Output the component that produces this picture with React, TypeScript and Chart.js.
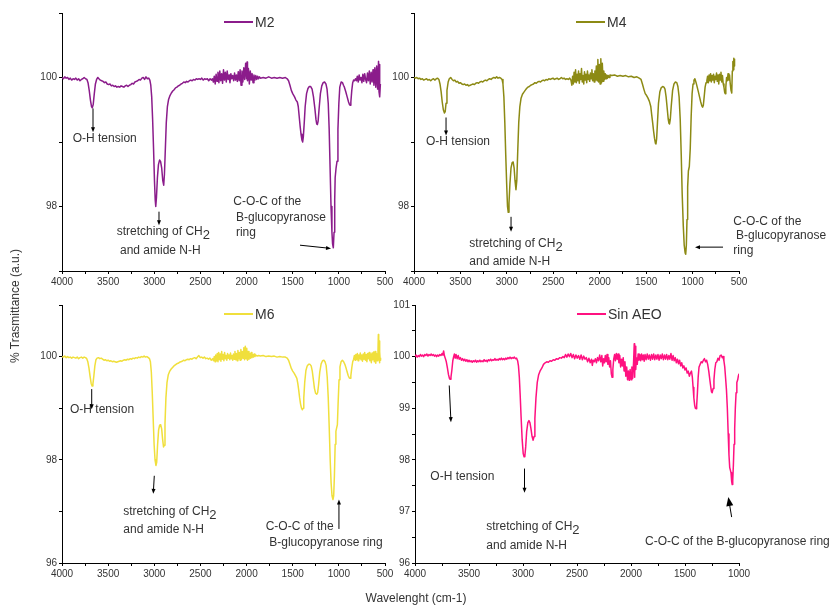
import { useEffect, useRef } from 'react';
import { Chart, registerables } from 'chart.js';

Chart.register(...registerables);

// ---------------- data (wavenumber cm-1, % transmittance) ----------------
const m2Points: [number, number][] = [
  [4000,100.00],[3985,99.98],[3970,100.01],[3955,99.99],[3940,100.00],[3925,99.97],[3910,99.99],[3895,99.96],[3880,99.98],[3865,99.97],[3850,99.99],[3835,99.96],[3820,99.98],[3805,99.95],[3790,99.97],[3775,99.98],[3760,100.00],[3745,99.98],[3730,99.97],[3718,99.92],[3705,99.8],[3692,99.65],[3680,99.55],[3672,99.53],[3662,99.58],[3650,99.75],[3638,99.9],[3625,99.97],[3612,100.0],[3600,99.98],[3585,99.96],[3570,99.95],[3555,99.94],[3540,99.92],[3525,99.93],[3510,99.90],[3495,99.89],[3480,99.90],[3465,99.87],[3450,99.88],[3435,99.86],[3420,99.87],[3405,99.85],[3390,99.86],[3375,99.85],[3360,99.87],[3345,99.86],[3330,99.85],[3315,99.87],[3300,99.88],[3285,99.86],[3270,99.88],[3255,99.89],[3240,99.91],[3225,99.90],[3210,99.93],[3195,99.94],[3180,99.95],[3165,99.97],[3150,99.96],[3135,99.99],[3120,100.0],[3105,99.97],[3090,100.01],[3075,99.98],[3060,99.99],[3048,99.96],[3038,99.88],[3028,99.7],[3018,99.35],[3008,98.9],[2998,98.4],[2990,98.1],[2984,98.0],[2976,98.15],[2966,98.45],[2955,98.65],[2943,98.72],[2932,98.7],[2920,98.6],[2908,98.4],[2898,98.33],[2890,98.5],[2880,98.9],[2870,99.3],[2858,99.55],[2845,99.66],[2830,99.72],[2815,99.76],[2800,99.79],[2785,99.81],[2770,99.84],[2755,99.85],[2740,99.87],[2725,99.88],[2710,99.9],[2695,99.91],[2680,99.93],[2665,99.92],[2650,99.94],[2635,99.93],[2620,99.95],[2605,99.96],[2590,99.95],[2575,99.97],[2560,99.96],[2545,99.98],[2530,99.97],[2515,99.98],[2500,99.97],[2485,99.99],[2470,99.96],[2455,99.98],[2440,99.97],[2425,99.98],[2410,99.95],[2395,99.98],[2380,99.96],[2370,99.98],
  [2360,99.93],[2350,100.02],[2340,99.90],[2330,100.05],[2320,99.94],[2310,100.08],[2300,99.92],[2290,100.10],[2280,99.95],[2270,100.06],[2260,99.91],[2250,100.12],[2240,99.96],[2230,100.08],[2220,99.93],[2210,100.10],[2200,99.97],[2190,100.04],[2180,99.92],[2170,100.06],[2160,99.98],[2150,100.03],[2140,99.95],[2130,100.07],[2120,99.96],[2110,100.04],[2100,99.94],[2090,100.09],[2080,99.95],[2070,100.12],[2060,99.88],[2050,100.10],[2040,99.93],[2030,100.15],[2020,99.97],[2010,100.22],[2000,99.98],[1995,100.24],[1990,99.95],[1980,100.14],[1970,99.90],[1960,100.10],[1950,99.96],[1940,100.06],[1930,99.92],[1920,100.04],[1910,99.96],[1900,100.03],[1890,99.97],[1880,100.02],[1870,99.98],[1860,100.01],[1850,99.99],
  [1820,100.0],[1790,99.99],[1760,100.01],[1730,99.99],[1700,100.0],[1670,99.99],[1640,100.0],[1610,99.99],[1580,100.0],[1560,99.98],[1545,99.95],[1530,99.88],[1515,99.8],[1500,99.75],[1480,99.7],[1465,99.65],[1450,99.62],[1440,99.55],[1430,99.4],[1420,99.25],[1410,99.12],[1400,99.03],[1392,99.0],[1385,99.08],[1375,99.3],[1365,99.55],[1350,99.75],[1335,99.83],[1320,99.86],[1305,99.86],[1290,99.82],[1275,99.7],[1260,99.52],[1248,99.35],[1240,99.28],[1233,99.27],[1225,99.32],[1215,99.5],[1200,99.75],[1185,99.87],[1170,99.92],[1155,99.93],[1140,99.9],[1128,99.82],[1115,99.6],[1105,99.2],[1095,98.6],[1085,98.0],[1075,97.6],[1068,97.42],[1060,97.36],[1052,97.6],[1045,98.1],[1040,98.45],[1030,98.6],[1020,98.7],[1010,99.2],[1000,99.6],[990,99.85],[975,99.93],[960,99.92],[950,99.88],[940,99.85],[925,99.78],[910,99.7],[895,99.62],[885,99.58],[878,99.57],[870,99.62],[860,99.8],[850,99.92],[840,99.96],[830,99.95],[820,99.98],
  [810,99.95],[800,100.02],[790,99.93],[780,100.04],[770,99.96],[760,100.0],[750,99.92],[740,100.05],[730,99.94],[720,100.06],[710,99.97],[700,99.92],[690,100.07],[680,99.95],[670,100.1],[660,99.9],[650,100.08],[640,99.93],[630,100.12],[620,99.88],[610,100.15],[600,99.85],[590,100.18],[580,99.82],[570,100.25],[565,99.78],[560,100.2],[555,99.7],[550,99.9],
];

const m4Points: [number, number][] = [
  [4000,100.00],[3985,99.99],[3970,100.0],[3955,99.98],[3940,99.99],[3925,99.97],[3910,99.98],[3895,99.96],[3880,99.97],[3865,99.98],[3850,99.96],[3835,99.97],[3820,99.95],[3805,99.97],[3790,99.98],[3775,99.96],[3760,99.98],[3745,99.99],[3732,99.97],[3720,99.9],[3708,99.78],[3696,99.62],[3684,99.5],[3672,99.45],[3664,99.47],[3655,99.6],[3645,99.8],[3632,99.93],[3620,99.98],[3605,100.0],[3590,99.97],[3575,99.95],[3560,99.96],[3545,99.93],[3530,99.94],[3515,99.91],[3500,99.92],[3485,99.9],[3470,99.89],[3455,99.9],[3440,99.88],[3425,99.89],[3410,99.87],[3395,99.88],[3380,99.89],[3365,99.9],[3350,99.89],[3335,99.91],[3320,99.92],[3305,99.91],[3290,99.93],[3275,99.94],[3260,99.93],[3245,99.95],[3230,99.96],[3215,99.95],[3200,99.97],[3185,99.98],[3170,99.97],[3155,99.99],[3140,100.0],[3125,99.99],[3110,100.01],[3095,99.99],[3080,100.0],[3065,99.99],[3052,99.97],[3042,99.9],[3032,99.7],[3022,99.3],[3012,98.8],[3002,98.35],[2993,98.0],[2985,97.91],[2977,98.05],[2967,98.35],[2955,98.6],[2943,98.68],[2932,98.69],[2922,98.6],[2912,98.4],[2902,98.26],[2893,98.4],[2883,98.85],[2872,99.3],[2860,99.55],[2847,99.68],[2832,99.74],[2818,99.77],[2803,99.8],[2788,99.83],[2773,99.85],[2758,99.86],[2743,99.88],[2728,99.89],[2713,99.9],[2698,99.92],[2683,99.91],[2668,99.93],[2653,99.94],[2638,99.93],[2623,99.95],[2608,99.96],[2593,99.95],[2578,99.97],[2563,99.96],[2548,99.98],[2533,99.97],[2518,99.98],[2503,99.99],[2488,99.97],[2473,99.98],[2458,99.99],[2443,99.97],[2428,99.98],[2413,100.0],[2398,99.98],[2383,99.99],[2368,99.97],[2353,99.98],[2338,99.97],[2323,99.99],[2310,99.96],
  [2300,99.88],[2292,100.02],[2284,99.9],[2276,100.08],[2268,99.93],[2260,100.12],[2252,99.92],[2244,100.05],[2236,99.95],[2228,100.1],[2220,99.91],[2212,100.06],[2204,99.97],[2196,100.14],[2188,99.93],[2180,100.03],[2172,99.9],[2164,100.09],[2156,99.96],[2148,100.05],[2140,99.92],[2132,100.1],[2124,99.97],[2116,100.04],[2108,99.94],[2100,100.07],[2092,99.98],[2084,100.12],[2076,99.95],[2068,100.06],[2060,99.93],[2052,100.1],[2044,99.96],[2036,100.18],[2028,99.95],[2020,100.28],[2012,99.93],[2004,100.2],[1996,99.9],[1988,100.29],[1980,99.92],[1972,100.22],[1964,99.94],[1956,100.1],[1948,99.97],[1940,100.06],[1932,99.98],[1924,100.04],[1916,99.99],[1908,100.03],[1900,100.0],[1890,100.04],
  [1870,100.03],[1840,100.04],[1810,100.02],[1780,100.03],[1750,100.02],[1720,100.03],[1690,100.01],[1660,100.02],[1630,100.0],[1600,100.01],[1575,99.99],[1555,99.97],[1540,99.9],[1525,99.82],[1510,99.75],[1495,99.72],[1480,99.68],[1465,99.63],[1450,99.55],[1440,99.42],[1430,99.3],[1420,99.17],[1410,99.06],[1400,98.98],[1394,98.97],[1387,99.05],[1378,99.3],[1367,99.6],[1352,99.78],[1338,99.84],[1322,99.86],[1308,99.85],[1297,99.82],[1285,99.7],[1273,99.52],[1262,99.35],[1254,99.29],[1248,99.28],[1240,99.35],[1230,99.55],[1215,99.8],[1200,99.9],[1185,99.93],[1170,99.92],[1158,99.86],[1145,99.7],[1133,99.35],[1122,98.8],[1112,98.2],[1100,97.7],[1090,97.4],[1080,97.28],[1074,97.26],[1067,97.4],[1060,97.8],[1053,98.3],[1045,98.55],[1035,98.62],[1025,98.9],[1015,99.4],[1005,99.75],[995,99.9],[985,99.96],[975,99.98],[962,99.92],[950,99.85],[938,99.78],[925,99.7],[912,99.62],[900,99.56],[892,99.54],[884,99.57],[875,99.7],[865,99.85],[855,99.92],[846,99.95],
  [838,100.02],[830,99.92],[822,100.04],[814,99.95],[806,100.06],[798,99.93],[790,100.03],[782,99.96],[774,100.05],[766,99.92],[758,100.02],[750,99.97],[742,100.07],[734,99.94],[726,100.04],[718,99.9],[710,100.05],[702,99.96],[694,100.08],[686,99.93],[678,100.03],[670,99.9],[662,99.85],[654,99.77],[648,99.75],[642,99.85],[634,100.0],[626,99.95],[618,100.06],[610,99.96],[602,100.04],[594,99.9],[586,99.8],[578,99.76],[572,100.1],[566,100.25],[560,100.12],[556,100.3],[552,100.18],[548,100.29],
];

const m6Points: [number, number][] = [
  [4000,100.0],[3985,99.99],[3970,100.01],[3955,99.98],[3940,100.0],[3925,99.98],[3910,99.99],[3895,99.97],[3880,99.99],[3865,99.98],[3850,99.97],[3835,99.99],[3820,99.96],[3805,99.98],[3790,99.99],[3775,99.97],[3760,99.99],[3745,99.98],[3732,99.96],[3720,99.9],[3708,99.78],[3696,99.62],[3684,99.48],[3674,99.43],[3665,99.47],[3655,99.62],[3644,99.82],[3632,99.94],[3620,99.97],[3605,99.98],[3590,99.96],[3575,99.97],[3560,99.95],[3545,99.93],[3530,99.94],[3515,99.92],[3500,99.93],[3485,99.91],[3470,99.92],[3455,99.9],[3440,99.91],[3425,99.9],[3410,99.89],[3395,99.9],[3380,99.91],[3365,99.92],[3350,99.91],[3335,99.93],[3320,99.94],[3305,99.93],[3290,99.95],[3275,99.94],[3260,99.96],[3245,99.95],[3230,99.97],[3215,99.96],[3200,99.98],[3185,99.97],[3170,99.99],[3155,99.98],[3140,100.0],[3125,99.99],[3110,100.01],[3095,99.99],[3080,100.0],[3065,99.98],[3052,99.96],[3042,99.9],[3032,99.7],[3022,99.3],[3012,98.8],[3002,98.3],[2992,98.0],[2982,97.89],[2974,97.95],[2964,98.3],[2953,98.58],[2942,98.67],[2931,98.68],[2920,98.6],[2910,98.4],[2900,98.25],[2893,98.28],[2884,98.7],[2874,99.2],[2862,99.5],[2848,99.65],[2832,99.72],[2817,99.76],[2802,99.79],[2787,99.82],[2772,99.84],[2757,99.86],[2742,99.87],[2727,99.89],[2712,99.9],[2697,99.91],[2682,99.93],[2667,99.92],[2652,99.94],[2637,99.95],[2622,99.94],[2607,99.96],[2592,99.95],[2577,99.97],[2562,99.98],[2547,99.96],[2532,99.99],[2517,100.02],[2502,99.98],[2487,99.99],[2472,99.97],[2457,99.99],[2442,99.96],[2427,99.97],[2412,99.95],[2397,99.97],[2382,99.93],[2367,99.96],
  [2358,99.92],[2350,100.0],[2342,99.9],[2334,100.03],[2326,99.92],[2318,100.06],[2310,99.9],[2302,100.08],[2294,99.94],[2286,100.05],[2278,99.91],[2270,100.1],[2262,99.95],[2254,100.04],[2246,99.92],[2238,100.08],[2230,99.96],[2222,100.02],[2214,99.93],[2206,100.06],[2198,99.97],[2190,100.03],[2182,99.94],[2174,100.07],[2166,99.96],[2158,100.02],[2150,99.93],[2142,100.05],[2134,99.95],[2126,100.1],[2118,99.94],[2110,100.06],[2102,99.92],[2094,100.12],[2086,99.96],[2078,100.08],[2070,99.93],[2062,100.14],[2054,99.95],[2046,100.1],[2038,99.97],[2030,100.17],[2022,99.94],[2014,100.2],[2006,99.96],[1998,100.16],[1990,99.93],[1982,100.1],[1974,99.95],[1966,100.06],[1958,99.97],[1950,100.08],[1942,99.98],[1934,100.04],[1926,99.99],[1918,100.05],[1910,100.0],[1900,100.03],[1885,100.01],[1870,100.02],
  [1850,100.01],[1820,100.02],[1790,100.0],[1760,100.01],[1730,100.0],[1700,100.01],[1670,99.99],[1640,100.0],[1610,99.99],[1580,99.99],[1560,99.97],[1545,99.93],[1530,99.85],[1515,99.77],[1500,99.72],[1485,99.68],[1470,99.63],[1455,99.58],[1445,99.48],[1435,99.35],[1425,99.2],[1415,99.08],[1405,99.0],[1395,98.97],[1388,99.0],[1380,99.2],[1370,99.5],[1357,99.73],[1343,99.82],[1328,99.85],[1313,99.85],[1300,99.82],[1288,99.72],[1276,99.55],[1264,99.38],[1252,99.29],[1240,99.27],[1230,99.3],[1220,99.45],[1207,99.7],[1192,99.86],[1177,99.92],[1162,99.93],[1150,99.9],[1138,99.83],[1126,99.6],[1115,99.2],[1104,98.6],[1094,98.0],[1084,97.55],[1074,97.3],[1064,97.23],[1056,97.3],[1048,97.7],[1040,98.3],[1032,98.55],[1024,98.62],[1016,98.68],[1008,99.1],[998,99.55],[988,99.8],[976,99.9],[962,99.93],[948,99.9],[935,99.85],[922,99.78],[910,99.7],[898,99.63],[888,99.59],[879,99.58],[870,99.63],[860,99.78],[850,99.9],[840,99.95],
  [832,100.02],[824,99.93],[816,100.04],[808,99.95],[800,100.06],[792,99.92],[784,100.03],[776,99.96],[768,100.07],[760,99.94],[752,100.03],[744,99.91],[736,100.05],[728,99.95],[720,100.08],[712,99.93],[704,100.04],[696,99.9],[688,100.06],[680,99.96],[672,100.08],[664,99.92],[656,100.05],[648,99.88],[640,100.07],[632,99.94],[624,100.09],[616,99.9],[608,100.1],[600,99.87],[592,100.06],[584,99.92],[576,100.12],[572,100.43],[568,99.95],[564,100.3],[560,99.88],[556,100.1],[552,99.93],[548,99.98],
];

const sinAeoPoints: [number, number][] = [
  [4000,100.0],[3990,100.03],[3980,99.99],[3970,100.02],[3960,100.0],[3950,100.04],[3940,100.01],[3930,100.03],[3920,100.0],[3910,100.04],[3900,100.02],[3890,100.05],[3880,100.01],[3870,100.04],[3860,100.02],[3850,100.05],[3840,100.02],[3830,100.04],[3820,100.01],[3810,100.03],[3800,100.0],[3790,100.03],[3780,100.01],[3770,100.04],[3760,100.02],[3750,100.06],[3742,100.03],[3735,100.11],[3728,100.02],[3720,99.97],[3710,99.9],[3700,99.78],[3690,99.65],[3680,99.57],[3674,99.56],[3667,99.6],[3658,99.75],[3650,99.92],[3642,100.0],[3635,100.05],[3628,99.97],[3620,100.04],[3610,99.96],[3600,100.02],[3590,99.95],[3580,99.98],[3570,99.93],[3560,99.96],[3550,99.92],[3540,99.95],[3530,99.91],[3520,99.94],[3510,99.9],[3500,99.93],[3490,99.9],[3480,99.92],[3470,99.89],[3460,99.92],[3450,99.9],[3440,99.93],[3430,99.89],[3420,99.92],[3410,99.9],[3400,99.93],[3390,99.9],[3380,99.92],[3370,99.9],[3360,99.94],[3350,99.91],[3340,99.93],[3330,99.9],[3320,99.94],[3310,99.92],[3300,99.95],[3290,99.92],[3280,99.94],[3270,99.93],[3260,99.96],[3250,99.93],[3240,99.95],[3230,99.93],[3220,99.96],[3210,99.94],[3200,99.97],[3190,99.94],[3180,99.96],[3170,99.94],[3160,99.97],[3150,99.95],[3140,99.98],[3130,99.96],[3120,99.99],[3110,99.96],[3100,99.98],[3090,99.97],[3080,99.99],[3070,99.96],[3060,99.97],[3050,99.92],[3042,99.82],[3034,99.6],[3026,99.25],[3018,98.85],[3008,98.4],[2998,98.12],[2990,98.06],[2983,98.07],[2975,98.25],[2966,98.55],[2955,98.72],[2945,98.76],[2936,98.72],[2926,98.6],[2916,98.45],[2906,98.38],[2898,98.45],[2890,98.8],[2880,99.2],[2868,99.5],[2855,99.65],[2840,99.73],[2825,99.78],[2810,99.85],[2795,99.88],[2780,99.9],[2765,99.89],[2750,99.92],[2735,99.91],[2720,99.94],[2705,99.93],[2690,99.96],[2675,99.95],[2660,99.98],[2645,99.97],[2630,100.0],[2618,99.98],[2606,100.04],[2594,99.99],[2582,100.05],[2570,100.0],[2558,100.06],[2546,99.98],[2534,100.04],[2522,99.96],[2510,100.03],[2498,99.97],[2486,100.02],[2474,99.95],[2462,100.03],[2450,99.94],[2438,100.01],[2426,99.95],[2414,99.98],[2402,99.9],[2390,99.97],[2378,99.88],[2366,99.95],[2358,99.83],[2350,99.93],[2340,99.9],[2330,99.96],[2320,99.88],[2310,99.98],[2300,99.92],[2290,100.03],[2280,99.9],[2270,100.02],[2262,99.82],[2254,99.96],[2246,99.88],[2238,100.02],[2230,99.9],[2222,100.04],[2214,99.85],[2206,99.98],[2198,99.8],[2190,99.92],[2182,99.66],[2175,99.6],[2168,99.75],[2160,99.95],[2152,100.04],[2144,99.92],[2136,100.06],[2128,99.95],[2120,100.05],[2112,99.88],[2104,100.02],[2096,99.8],[2088,99.95],[2080,99.82],[2072,99.98],[2064,99.72],[2056,99.9],[2048,99.62],[2040,99.8],[2032,99.55],[2024,99.72],[2016,99.54],[2008,99.75],[2000,99.55],[1992,99.8],[1984,99.58],[1976,99.9],[1970,100.25],[1966,99.6],[1962,100.2],[1956,99.75],[1950,99.98],[1942,99.85],[1934,100.05],[1926,99.93],[1918,100.04],[1910,99.92],[1902,100.05],[1894,99.94],[1886,100.03],[1878,99.91],[1870,100.04],[1860,99.94],[1850,100.05],[1840,99.95],[1830,100.03],[1820,99.93],[1810,100.04],[1800,99.95],[1790,100.05],[1780,99.94],[1770,100.03],[1760,99.95],[1750,100.04],[1740,99.93],[1730,100.03],[1720,99.96],[1710,100.05],[1700,99.94],[1690,100.03],[1680,99.95],[1670,100.04],[1660,99.94],[1650,100.02],[1640,99.95],[1630,100.06],[1620,99.93],[1610,100.02],[1600,99.92],[1590,99.98],[1580,99.88],[1570,99.95],[1560,99.86],[1550,99.93],[1540,99.82],[1530,99.88],[1520,99.78],[1510,99.82],[1500,99.74],[1490,99.78],[1480,99.68],[1470,99.72],[1460,99.62],[1450,99.68],[1440,99.72],[1432,99.6],[1425,99.4],[1418,99.2],[1410,99.05],[1404,99.0],[1398,98.99],[1392,99.05],[1385,99.3],[1378,99.6],[1370,99.8],[1360,99.85],[1350,99.9],[1340,99.88],[1330,99.93],[1320,99.96],[1310,99.9],[1300,99.93],[1290,99.85],[1280,99.72],[1270,99.55],[1262,99.42],[1255,99.32],[1248,99.3],[1240,99.38],[1232,99.55],[1224,99.75],[1215,99.88],[1205,99.9],[1195,99.97],[1185,99.93],[1175,100.02],[1165,100.03],[1155,99.98],[1148,100.0],[1140,99.92],[1132,99.8],[1124,99.58],[1116,99.35],[1108,99.0],[1100,98.5],[1093,98.1],[1086,97.85],[1080,97.8],[1074,97.75],[1068,97.58],[1063,97.52],[1058,97.6],[1052,97.9],[1046,98.3],[1040,98.6],[1034,99.0],[1027,99.3],[1020,99.5],[1012,99.55],[1006,99.62],[1000,99.67],
];

const seriesLabels = ['M2', 'M4', 'M6', 'Sin AEO'];
const seriesColors = ['#8b1c8b', '#8c8a14', '#f0df3c', '#ff1180'];

const xAxisTitle = 'Wavelenght (cm-1)';
const yAxisTitle = '% Trasmittance (a.u.)';

type Note = { text: string; sub?: string; x: number; y: number };
type Arrow = { from: [number, number]; to: [number, number]; head?: number; width?: number };

const m2Notes: Note[] = [
  { text: 'O-H tension', x: 3884, y: 99.05 },
  { text: 'stretching of CH', sub: '2', x: 3407, y: 97.61 },
  { text: 'and amide N-H', x: 3372, y: 97.31 },
  { text: 'C-O-C of the', x: 2144, y: 98.07 },
  { text: 'B-glucopyranose', x: 2115, y: 97.82 },
  { text: 'ring', x: 2115, y: 97.59 },
];
const m2Arrows: Arrow[] = [
  { from: [3664, 99.52], to: [3664, 99.15] },
  { from: [2949, 97.92], to: [2949, 97.71] },
  { from: [1421, 97.40], to: [1085, 97.35] },
];
const m4Notes: Note[] = [
  { text: 'O-H tension', x: 3871, y: 99.01 },
  { text: 'stretching of CH', sub: '2', x: 3404, y: 97.43 },
  { text: 'and amide N-H', x: 3404, y: 97.14 },
  { text: 'C-O-C of the', x: 561, y: 97.77 },
  { text: 'B-glucopyranose', x: 532, y: 97.54 },
  { text: 'ring', x: 561, y: 97.31 },
];
const m4Arrows: Arrow[] = [
  { from: [3655, 99.38], to: [3655, 99.10] },
  { from: [2955, 97.84], to: [2955, 97.61] },
  { from: [672, 97.37], to: [974, 97.37] },
];
const m6Notes: Note[] = [
  { text: 'O-H tension', x: 3913, y: 98.97 },
  { text: 'stretching of CH', sub: '2', x: 3336, y: 97.0 },
  { text: 'and amide N-H', x: 3336, y: 96.65 },
  { text: 'C-O-C of the', x: 1793, y: 96.70 },
  { text: 'B-glucopyranose ring', x: 1754, y: 96.39 },
];
const m6Arrows: Arrow[] = [
  { from: [3678, 99.37], to: [3678, 98.98] },
  { from: [3000, 97.69], to: [3011, 97.34] },
  { from: [999, 96.66], to: [999, 97.23] },
];
const sinNotes: Note[] = [
  { text: 'O-H tension', x: 3858, y: 97.68 },
  { text: 'stretching of CH', sub: '2', x: 3340, y: 96.70 },
  { text: 'and amide N-H', x: 3340, y: 96.33 },
  { text: 'C-O-C of the B-glucopyranose ring', x: 1870, y: 96.41 },
];
const sinArrows: Arrow[] = [
  { from: [3683, 99.44], to: [3667, 98.73] },
  { from: [2986, 97.83], to: [2986, 97.36] },
  { from: [1068, 96.89], to: [1099, 97.28], head: 9, width: 7 },
];

// ---------------- layout / style ----------------
const CANVAS_W = 833;
const CANVAS_H = 605;
const Y_AXIS_W = 40;
const X_AXIS_H = 24;
const FONT = '"Liberation Sans", Arial, Helvetica, sans-serif';
const TEXT = '#333333';

type Panel = {
  key: string; label: string; color: string; points: [number, number][];
  xMin: number; xMax: number; yMin: number; yMax: number; yStep: number;
  yLabel: (v: number) => boolean;
  area: { left: number; right: number; top: number; bottom: number };
  notes: Note[]; arrows: Arrow[];
};

const panels: Panel[] = [
  { key: 'm2', label: seriesLabels[0], color: seriesColors[0], points: m2Points, xMin: 500, xMax: 4000, yMin: 97, yMax: 101, yStep: 1,
    yLabel: (v) => v === 98 || v === 100, area: { left: 62, right: 385, top: 13, bottom: 271 }, notes: m2Notes, arrows: m2Arrows },
  { key: 'm4', label: seriesLabels[1], color: seriesColors[1], points: m4Points, xMin: 500, xMax: 4000, yMin: 97, yMax: 101, yStep: 1,
    yLabel: (v) => v === 98 || v === 100, area: { left: 414, right: 739, top: 13, bottom: 271 }, notes: m4Notes, arrows: m4Arrows },
  { key: 'm6', label: seriesLabels[2], color: seriesColors[2], points: m6Points, xMin: 500, xMax: 4000, yMin: 96, yMax: 101, yStep: 1,
    yLabel: (v) => v === 96 || v === 98 || v === 100, area: { left: 62, right: 385, top: 305, bottom: 563 }, notes: m6Notes, arrows: m6Arrows },
  { key: 'sin', label: seriesLabels[3], color: seriesColors[3], points: sinAeoPoints, xMin: 1000, xMax: 4000, yMin: 96, yMax: 101, yStep: 0.5,
    yLabel: (v) => Number.isInteger(v), area: { left: 415, right: 739, top: 305, bottom: 563 }, notes: sinNotes, arrows: sinArrows },
];

function drawArrow(ctx: CanvasRenderingContext2D, x1: number, y1: number, x2: number, y2: number, head: number, width: number) {
  const a = Math.atan2(y2 - y1, x2 - x1);
  const c = Math.cos(a), s = Math.sin(a);
  ctx.beginPath();
  ctx.moveTo(x1, y1);
  ctx.lineTo(x2 - c * head * 0.7, y2 - s * head * 0.7);
  ctx.stroke();
  ctx.beginPath();
  ctx.moveTo(x2, y2);
  ctx.lineTo(x2 - head * c + (width / 2) * s, y2 - head * s - (width / 2) * c);
  ctx.lineTo(x2 - head * c - (width / 2) * s, y2 - head * s + (width / 2) * c);
  ctx.closePath();
  ctx.fill();
}

function makeChart(canvas: HTMLCanvasElement, p: Panel) {
  const overlay = {
    id: 'overlay',
    afterDraw(chart: any) {
      const { ctx, chartArea } = chart;
      const xs = chart.scales.x, ys = chart.scales.y;
      ctx.save();
      // legend
      const ly = chartArea.top + 9;
      ctx.strokeStyle = p.color;
      ctx.lineWidth = 2;
      ctx.beginPath();
      ctx.moveTo(chartArea.left + 162, ly);
      ctx.lineTo(chartArea.left + 191, ly);
      ctx.stroke();
      ctx.fillStyle = TEXT;
      ctx.font = `14px ${FONT}`;
      ctx.textBaseline = 'middle';
      ctx.textAlign = 'left';
      ctx.fillText(p.label, chartArea.left + 193, ly + 1);
      // notes
      ctx.font = `12px ${FONT}`;
      for (const n of p.notes) {
        const px = xs.getPixelForValue(n.x), py = ys.getPixelForValue(n.y);
        ctx.fillText(n.text, px, py);
        if (n.sub) {
          const w = ctx.measureText(n.text).width;
          ctx.font = `13px ${FONT}`;
          ctx.fillText(n.sub, px + w, py + 4);
          ctx.font = `12px ${FONT}`;
        }
      }
      // arrows
      ctx.strokeStyle = '#000';
      ctx.fillStyle = '#000';
      ctx.lineWidth = 1;
      for (const a of p.arrows) {
        drawArrow(ctx, xs.getPixelForValue(a.from[0]), ys.getPixelForValue(a.from[1]),
          xs.getPixelForValue(a.to[0]), ys.getPixelForValue(a.to[1]), a.head ?? 5, a.width ?? 4);
      }
      ctx.restore();
    },
  };

  const tickFont = { family: FONT, size: 10 };
  return new Chart(canvas, {
    type: 'line',
    data: {
      datasets: [{
        label: p.label,
        data: p.points.map(([x, y]) => ({ x, y })),
        borderColor: p.color,
        backgroundColor: p.color,
        borderWidth: 1.5,
        borderJoinStyle: 'round',
        pointRadius: 0,
        tension: 0,
        fill: false,
      }],
    },
    options: {
      responsive: false,
      maintainAspectRatio: false,
      animation: false,
      events: [],
      layout: {
        padding: {
          left: p.area.left - Y_AXIS_W,
          right: CANVAS_W - p.area.right,
          top: p.area.top,
          bottom: CANVAS_H - p.area.bottom - X_AXIS_H,
        },
      },
      plugins: { legend: { display: false }, tooltip: { enabled: false }, title: { display: false } },
      scales: {
        x: {
          type: 'linear',
          reverse: true,
          min: p.xMin,
          max: p.xMax,
          afterFit: (s: any) => { s.height = X_AXIS_H; },
          border: { display: true, color: '#000', width: 1 },
          grid: { display: true, drawOnChartArea: false, drawTicks: true, tickLength: 3, color: '#000', tickColor: '#000' },
          ticks: {
            stepSize: 250, autoSkip: false, maxRotation: 0, padding: 2, color: TEXT, font: tickFont,
            callback: (v: any) => (Number(v) % 500 === 0 ? String(v) : ''),
          },
        },
        y: {
          type: 'linear',
          min: p.yMin,
          max: p.yMax,
          afterFit: (s: any) => { s.width = Y_AXIS_W; },
          border: { display: true, color: '#000', width: 1 },
          grid: { display: true, drawOnChartArea: false, drawTicks: true, tickLength: 3, color: '#000', tickColor: '#000' },
          ticks: {
            stepSize: p.yStep, autoSkip: false, padding: 2, color: TEXT, font: tickFont,
            callback: (v: any) => (p.yLabel(Number(v)) ? String(v) : ''),
          },
        },
      },
    } as any,
    plugins: [overlay],
  });
}

function PanelCanvas({ p }: { p: Panel }) {
  const ref = useRef<HTMLCanvasElement | null>(null);
  useEffect(() => {
    if (!ref.current) return;
    const chart = makeChart(ref.current, p);
    return () => chart.destroy();
  }, [p]);
  return (
    <canvas ref={ref} width={CANVAS_W} height={CANVAS_H}
      style={{ position: 'absolute', left: 0, top: 0, width: CANVAS_W, height: CANVAS_H }} />
  );
}

export default function App() {
  return (
    <div style={{ position: 'absolute', left: 0, top: 0, width: CANVAS_W, height: CANVAS_H, background: '#fff', overflow: 'hidden' }}>
      {panels.map((p) => <PanelCanvas key={p.key} p={p} />)}
      <div style={{ position: 'absolute', left: 15, top: 306, transform: 'translate(-50%, -50%) rotate(-90deg)', whiteSpace: 'nowrap', font: `12px ${FONT}`, color: TEXT }}>
        {yAxisTitle}
      </div>
      <div style={{ position: 'absolute', left: 416, top: 598, transform: 'translate(-50%, -50%)', whiteSpace: 'nowrap', font: `12px ${FONT}`, color: TEXT }}>
        {xAxisTitle}
      </div>
    </div>
  );
}
